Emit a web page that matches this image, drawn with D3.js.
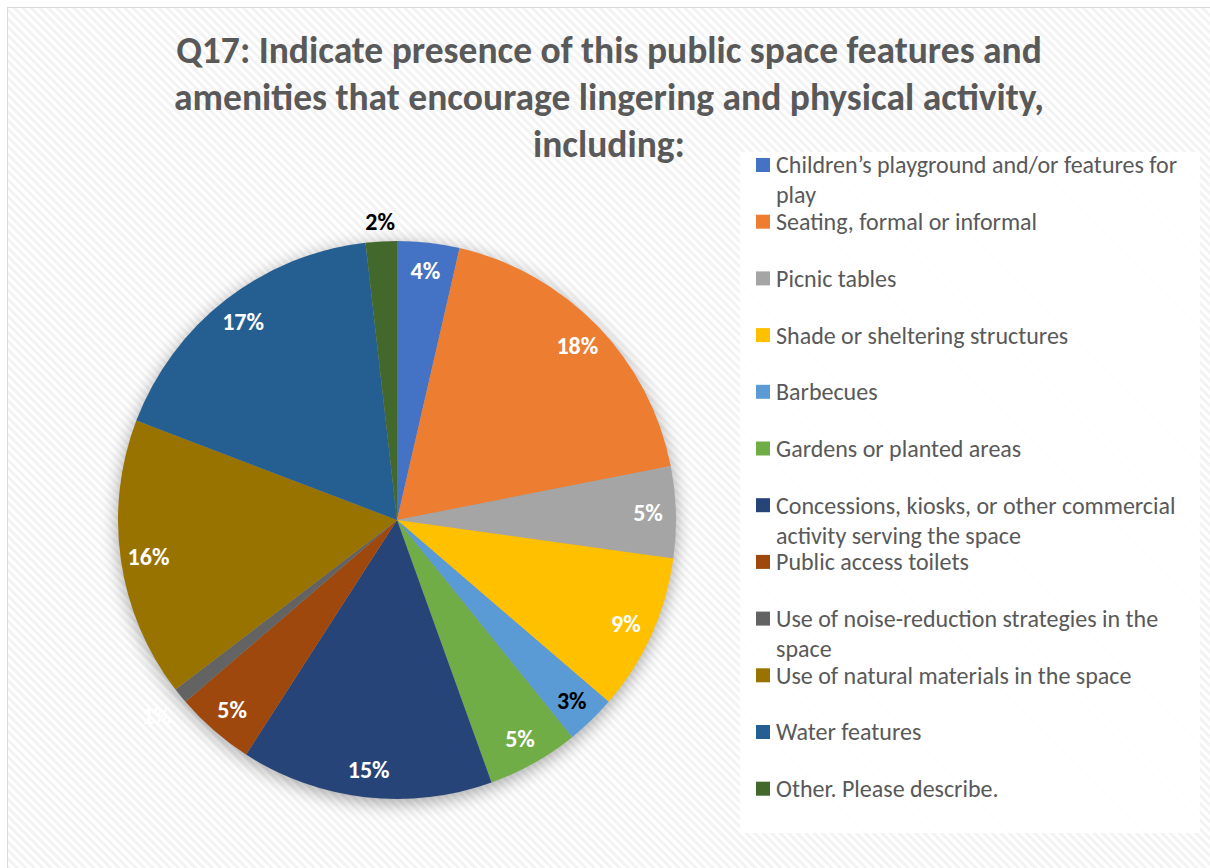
<!DOCTYPE html>
<html>
<head>
<meta charset="utf-8">
<script src="https://cdn.jsdelivr.net/npm/d3@7"></script>
<style>
  body { margin: 0; background: #fff; }
  svg { display: block; font-family: Carlito, Lato, "Open Sans", sans-serif; }
</style>
</head>
<body>
<svg></svg>
<script>
const categories = [
  'Children’s playground and/or features for play',
  'Seating, formal or informal',
  'Picnic tables',
  'Shade or sheltering structures',
  'Barbecues',
  'Gardens or planted areas',
  'Concessions, kiosks, or other commercial activity serving the space',
  'Public access toilets',
  'Use of noise-reduction strategies in the space',
  'Use of natural materials in the space',
  'Water features',
  'Other. Please describe.'
];
const values = [3.6, 18.3, 5.3, 9.1, 2.9, 5.3, 14.6, 4.6, 0.9, 16.2, 17.4, 1.8];
const colors = ['#4472C4', '#ED7D31', '#A5A5A5', '#FFC000', '#5B9BD5', '#70AD47',
                '#264478', '#9E480E', '#636363', '#997300', '#255E91', '#43682B'];
const titleLines = [
  'Q17: Indicate presence of this public space features and',
  'amenities that encourage lingering and physical activity,',
  'including:'
];

const svg = d3.select('svg');
svg.attr('width', 1210)
   .attr('height', 868);
const width = +svg.attr('width');
const height = +svg.attr('height');

const defs = svg.append('defs');
// diagonal stripe background
const pat = defs.append('pattern')
  .attr('id', 'stripes')
  .attr('patternUnits', 'userSpaceOnUse')
  .attr('width', 6).attr('height', 6)
  .attr('patternTransform', 'rotate(45)');
pat.append('rect').attr('width', 6).attr('height', 6).attr('fill', '#ffffff');
pat.append('rect').attr('width', 6).attr('height', 3).attr('fill', '#f3f3f3');

const shadow = defs.append('filter').attr('id', 'shadow')
  .attr('x', '-20%').attr('y', '-20%').attr('width', '140%').attr('height', '140%');
shadow.append('feGaussianBlur').attr('in', 'SourceAlpha').attr('stdDeviation', 9);
shadow.append('feOffset').attr('dx', 0).attr('dy', 4).attr('result', 'b');
shadow.append('feComponentTransfer').append('feFuncA').attr('type', 'linear').attr('slope', 0.35);

svg.append('rect')
  .attr('x', 7.5).attr('y', 7.5)
  .attr('width', width).attr('height', height)
  .attr('fill', 'url(#stripes)')
  .attr('stroke', '#d9d9d9');

// title
svg.append('g').selectAll('text').data(titleLines)
  .enter().append('text')
  .attr('x', 609)
  .attr('y', (d, i) => 63 + i * 47)
  .attr('text-anchor', 'middle')
  .attr('font-size', 37.5)
  .attr('font-weight', 'bold')
  .attr('fill', '#595959')
  .text(d => d);

// legend
const legendTop = 152;
svg.append('rect')
  .attr('x', 740).attr('y', legendTop)
  .attr('width', 460).attr('height', 681)
  .attr('fill', '#ffffff').attr('opacity', 0.85);

const legend = svg.append('g');
const rowStep = 56.7;
const item = legend.selectAll('g').data(categories)
  .enter().append('g')
  .attr('transform', (d, i) => `translate(756, ${165 + i * rowStep})`);
item.append('rect')
  .attr('y', -7).attr('width', 14).attr('height', 14)
  .attr('fill', (d, i) => colors[i]);
item.each(function(d) {
  const t = d3.select(this).append('text')
    .attr('x', 20)
    .attr('font-size', 24)
    .attr('fill', '#595959');
  // wrap into lines no wider than the legend box
  const words = d.split(' ');
  let line = [];
  let ts = t.append('tspan').attr('x', 20).attr('dy', '0.35em');
  words.forEach(w => {
    line.push(w);
    ts.text(line.join(' '));
    if (ts.node().getComputedTextLength() > 415 && line.length > 1) {
      line.pop();
      ts.text(line.join(' '));
      line = [w];
      ts = t.append('tspan').attr('x', 20).attr('dy', 30).text(w);
    }
  });
});

// pie
const cx = 397, cy = 520, R = 279;
const pie = d3.pie().sort(null).value(d => d);
const arcs = pie(values);
const arc = d3.arc().innerRadius(0).outerRadius(R);
const g = svg.append('g').attr('transform', `translate(${cx},${cy})`);

g.append('circle').attr('r', R).attr('fill', '#000').attr('filter', 'url(#shadow)');

g.selectAll('path').data(arcs)
  .enter().append('path')
  .attr('d', arc)
  .attr('fill', (d, i) => colors[i])
  .attr('stroke', 'none');

// small slices get their label outside the pie
const inner = d3.arc().innerRadius(R * 0.9).outerRadius(R * 0.9);
const outer = d3.arc().innerRadius(R * 1.07).outerRadius(R * 1.07);
const farOut = d3.arc().innerRadius(R * 1.11).outerRadius(R * 1.11);
g.selectAll('text').data(arcs)
  .enter().append('text')
  .attr('transform', d => {
    const a = d.data < 1 ? farOut : d.data < 2 ? outer : inner;
    return `translate(${a.centroid(d)})`;
  })
  .attr('text-anchor', 'middle')
  .attr('dy', '0.35em')
  .attr('font-size', 24)
  .attr('font-weight', 'bold')
  .attr('fill', (d, i) => (categories[i] === 'Barbecues' || categories[i].startsWith('Other')) ? '#000' : '#fff')
  .text(d => Math.round(d.data) + '%');
</script>
</body>
</html>
